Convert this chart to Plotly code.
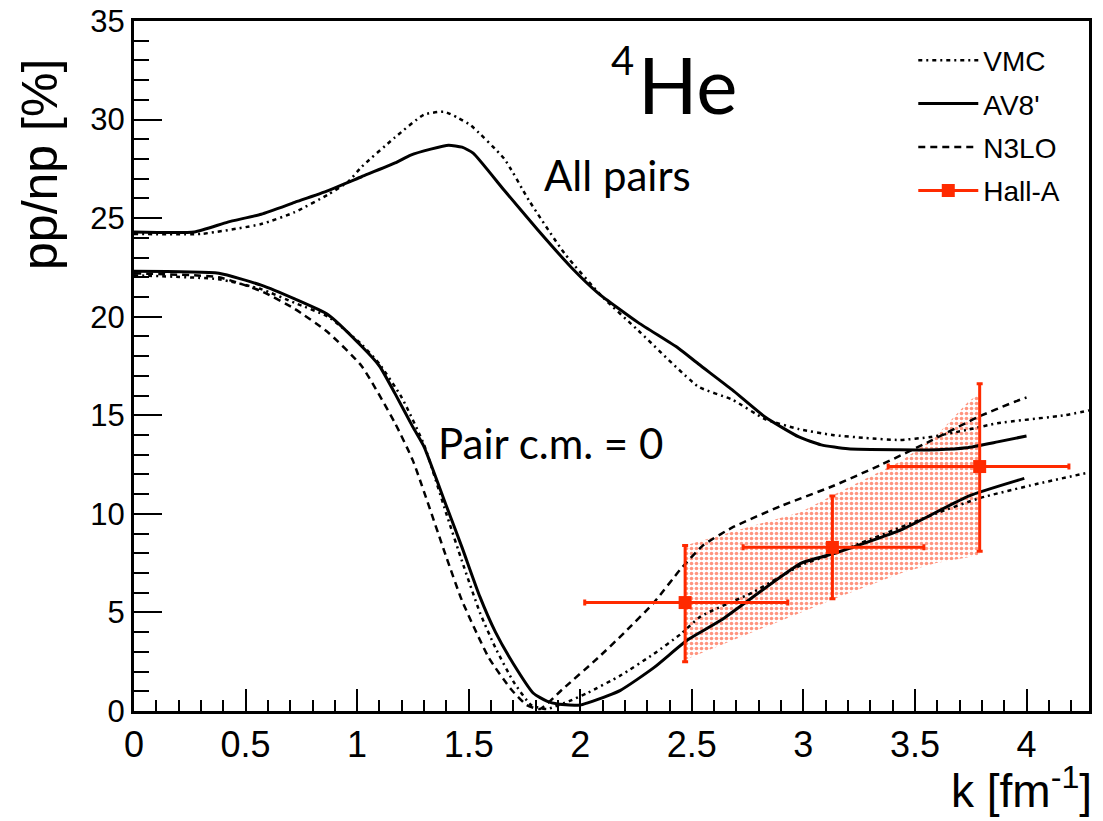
import plotly.graph_objects as go

# ---------------- data ----------------
# All pairs
k_all_av8 = [0, 0.27, 0.42, 0.57, 0.72, 0.87, 1.02, 1.17, 1.24, 1.33, 1.41, 1.47, 1.52, 1.66, 1.81, 1.96, 2.08,
             2.26, 2.44, 2.53, 2.68, 2.83, 2.98, 3.08, 3.2, 3.43, 3.6, 3.73, 3.87, 4.0]
v_all_av8 = [24.3, 24.3, 24.8, 25.2, 25.8, 26.4, 27.1, 27.8, 28.2, 28.5, 28.7, 28.6, 28.3, 26.4, 24.4, 22.5, 21.2,
             19.7, 18.4, 17.6, 16.3, 14.9, 13.9, 13.5, 13.3, 13.25, 13.25, 13.35, 13.65, 13.95]

k_all_vmc = [0, 0.3, 0.57, 0.72, 0.87, 0.96, 1.02, 1.17, 1.30, 1.39, 1.45, 1.51, 1.66, 1.77, 1.93, 2.1, 2.26,
             2.53, 2.68, 2.83, 2.98, 3.13, 3.28, 3.43, 3.57, 3.73, 3.87, 4.17, 4.28]
v_all_vmc = [24.2, 24.2, 24.7, 25.3, 26.2, 26.85, 27.6, 29.1, 30.25, 30.4, 30.1, 29.7, 28.0, 25.9, 23.2, 21.0, 19.3,
             16.45, 15.8, 14.8, 14.3, 14.0, 13.85, 13.75, 13.9, 14.25, 14.6, 15.0, 15.25]

# Pair c.m. = 0
k_cm_av8 = [0, 0.38, 0.57, 0.72, 0.87, 1.02, 1.10, 1.17, 1.25, 1.30, 1.40, 1.47, 1.55, 1.62, 1.70, 1.79, 1.85,
            1.90, 2.0, 2.03, 2.18, 2.33, 2.48, 2.63, 2.99, 3.14, 3.44, 3.74, 3.99]
v_cm_av8 = [22.3, 22.2, 21.6, 20.9, 20.1, 18.5, 17.5, 16.1, 14.4, 13.4, 10.4, 8.3, 5.8, 4.0, 2.4, 0.9, 0.5,
            0.35, 0.3, 0.4, 1.05, 2.2, 3.6, 4.6, 7.5, 8.0, 9.2, 10.9, 11.8]

k_cm_vmc = [0, 0.38, 0.57, 0.72, 0.87, 1.02, 1.10, 1.20, 1.30, 1.40, 1.47, 1.55, 1.62, 1.70, 1.78, 1.85, 1.95,
            2.03, 2.18, 2.33, 2.45, 2.54, 2.77, 2.99, 3.14, 3.59, 3.79, 4.04, 4.28]
v_cm_vmc = [22.1, 21.9, 21.4, 20.7, 20.0, 18.6, 17.6, 15.9, 13.5, 10.0, 7.6, 5.0, 3.2, 1.5, 0.3, 0.1, 0.5,
            0.9, 1.8, 2.9, 3.9, 4.8, 6.0, 7.4, 8.0, 10.0, 10.8, 11.5, 12.1]

k_cm_n3lo = [0, 0.38, 0.57, 0.72, 0.87, 1.02, 1.17, 1.25, 1.40, 1.47, 1.59, 1.69, 1.76, 1.82, 1.92, 2.08, 2.2,
             2.33, 2.45, 2.55, 2.68, 2.90, 3.13, 3.35, 3.57, 3.78, 3.95, 4.0]
v_cm_n3lo = [22.2, 22.0, 21.3, 20.4, 19.2, 17.5, 14.6, 12.7, 7.8, 5.6, 2.7, 1.1, 0.3, 0.1, 1.1, 2.7, 4.0,
             5.5, 7.2, 8.4, 9.3, 10.4, 11.4, 12.5, 13.7, 14.9, 15.7, 15.9]

# Hall-A data
halla_k = [2.47, 3.13, 3.79]
halla_v = [5.5, 8.3, 12.4]
halla_ey_plus = [2.9, 2.6, 4.2]
halla_ey_minus = [3.0, 2.6, 4.3]
halla_ex_minus = [0.45, 0.40, 0.41]
halla_ex_plus = [0.46, 0.41, 0.40]

# systematic band
band_k = [2.47, 2.99, 3.14, 3.44, 3.59, 3.74, 3.79]
band_hi = [8.4, 10.1, 11.0, 12.7, 13.9, 15.7, 16.1]
band_lo = [2.6, 5.0, 5.7, 7.0, 7.5, 7.8, 7.9]

# tick labels
x_ticks = [0, 0.5, 1, 1.5, 2, 2.5, 3, 3.5, 4]
x_ticktext = ["0", "0.5", "1", "1.5", "2", "2.5", "3", "3.5", "4"]
y_ticks = [0, 5, 10, 15, 20, 25, 30, 35]

RED = "#ff2a00"
AXFONT = "Liberation Sans, Arial, Helvetica, sans-serif"
TXTFONT = "Lato, Open Sans, sans-serif"

vmc_dash = "4px,4px,2px,4px"
n3lo_dash = "7px,5px"
SM = dict(shape="spline", smoothing=0.5)

fig = go.Figure()

# band
fig.add_trace(go.Scatter(
    x=band_k + band_k[::-1], y=band_hi + band_lo[::-1],
    fill="toself", mode="lines", line=dict(width=0, color=RED),
    fillcolor="rgba(0,0,0,0)",
    fillpattern=dict(shape=".", fgcolor=RED, bgcolor="rgba(0,0,0,0)", size=5, solidity=0.4),
    showlegend=False, hoverinfo="skip"))

# curves
fig.add_trace(go.Scatter(x=k_all_vmc, y=v_all_vmc, mode="lines", name="VMC", legendgroup="a",
                         line=dict(color="black", width=2.5, dash=vmc_dash, **SM)))
fig.add_trace(go.Scatter(x=k_cm_vmc, y=v_cm_vmc, mode="lines", name="VMC", legendgroup="a", showlegend=False,
                         line=dict(color="black", width=2.5, dash=vmc_dash, **SM)))
fig.add_trace(go.Scatter(x=k_all_av8, y=v_all_av8, mode="lines", name="AV8'", legendgroup="b",
                         line=dict(color="black", width=3, **SM)))
fig.add_trace(go.Scatter(x=k_cm_av8, y=v_cm_av8, mode="lines", name="AV8'", legendgroup="b", showlegend=False,
                         line=dict(color="black", width=3, **SM)))
fig.add_trace(go.Scatter(x=k_cm_n3lo, y=v_cm_n3lo, mode="lines", name="N3LO", legendgroup="c",
                         line=dict(color="black", width=2.5, dash=n3lo_dash, **SM)))

# Hall-A legend entry
fig.add_trace(go.Scatter(x=[None], y=[None], mode="lines+markers", name="Hall-A", legendgroup="d",
                         line=dict(color=RED, width=3),
                         marker=dict(symbol="square", size=13, color=RED)))
# Hall-A data
fig.add_trace(go.Scatter(
    x=halla_k, y=halla_v, mode="markers", name="Hall-A", legendgroup="d", showlegend=False,
    marker=dict(symbol="square", size=13, color=RED),
    error_y=dict(type="data", symmetric=False, array=halla_ey_plus, arrayminus=halla_ey_minus,
                 color=RED, thickness=3, width=3),
    error_x=dict(type="data", symmetric=False, array=halla_ex_plus, arrayminus=halla_ex_minus,
                 color=RED, thickness=3, width=3)))

# text annotations
fig.add_annotation(x=2.13, y=33.0, text="4", showarrow=False, xanchor="left", yanchor="middle",
                   font=dict(family=TXTFONT, size=40, color="black"))
fig.add_annotation(x=2.25, y=31.8, text="He", showarrow=False, xanchor="left", yanchor="middle",
                   font=dict(family=TXTFONT, size=78, color="black"))
fig.add_annotation(x=1.83, y=27.2, text="All pairs", showarrow=False, xanchor="left", yanchor="middle",
                   font=dict(family=TXTFONT, size=42, color="black"))
fig.add_annotation(x=1.355, y=13.6, text="Pair c.m. = 0", showarrow=False, xanchor="left", yanchor="middle",
                   font=dict(family=TXTFONT, size=42, color="black"))

# axis titles
fig.add_annotation(xref="paper", yref="paper", x=-0.099, y=0.792, text="pp/np [%]", textangle=-90,
                   showarrow=False, xanchor="center", yanchor="middle",
                   font=dict(family=AXFONT, size=50, color="black"))
fig.add_annotation(xref="paper", yref="paper", x=1.005, y=-0.112, text="k [fm<sup>-1</sup>]",
                   showarrow=False, xanchor="right", yanchor="middle",
                   font=dict(family=AXFONT, size=46, color="black"))

# page body has an 8px margin, so the figure is drawn 8px smaller and offset
fig.update_layout(
    width=1095, height=813,
    margin=dict(l=126, r=14, t=13, b=110, autoexpand=False),
    plot_bgcolor="white", paper_bgcolor="white",
    showlegend=True,
    legend=dict(x=0.816, y=0.979, xanchor="left", yanchor="top", bgcolor="rgba(0,0,0,0)",
                font=dict(family=AXFONT, size=28, color="black"), itemwidth=60,
                tracegroupgap=4, traceorder="grouped"),
)
fig.update_xaxes(range=[0, 4.28], tickvals=x_ticks, ticktext=x_ticktext, automargin=False,
                 ticklabeloverflow="allow",
                 ticks="inside", ticklen=22, tickwidth=1.5, tickcolor="black",
                 minor=dict(dtick=0.1, tick0=0, ticks="inside", ticklen=11, tickwidth=1.5, tickcolor="black"),
                 showline=True, linewidth=3, linecolor="black", mirror=True,
                 showgrid=False, zeroline=False,
                 tickfont=dict(family=AXFONT, size=36, color="black"))
fig.update_yaxes(range=[0, 35], tickvals=y_ticks, automargin=False,
                 ticklabeloverflow="allow",
                 ticks="inside", ticklen=28, tickwidth=1.5, tickcolor="black",
                 minor=dict(dtick=1, tick0=0, ticks="inside", ticklen=15, tickwidth=1.5, tickcolor="black"),
                 showline=True, linewidth=3, linecolor="black", mirror=True,
                 showgrid=False, zeroline=False,
                 tickfont=dict(family=AXFONT, size=31, color="black"))

fig.write_html("out.html")
